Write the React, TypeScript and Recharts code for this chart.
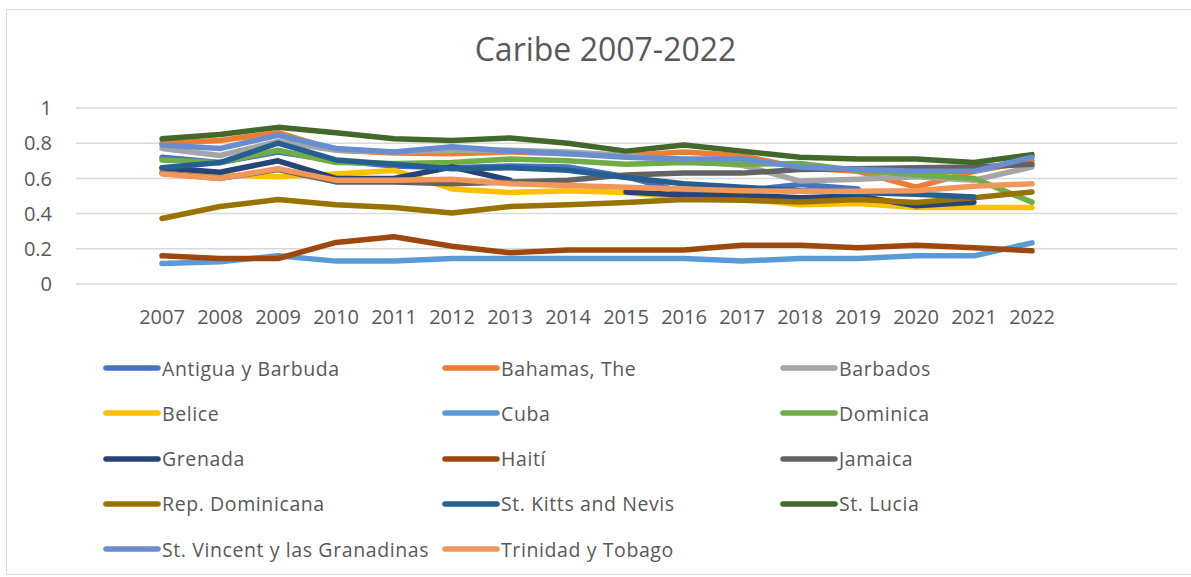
import { LineChart, Line, XAxis, YAxis, CartesianGrid } from "recharts";

const years = ['2007', '2008', '2009', '2010', '2011', '2012', '2013', '2014', '2015', '2016', '2017', '2018', '2019', '2020', '2021', '2022'];

const antigua = [0.72, 0.69, 0.75, 0.7, 0.67, 0.66, 0.67, 0.665, 0.61, 0.52, 0.53, 0.565, 0.54, null, null, null];
const bahamas = [0.8, 0.815, 0.86, 0.76, 0.745, 0.74, 0.75, 0.74, 0.73, 0.75, 0.73, 0.66, 0.64, 0.55, 0.64, 0.7];
const barbados = [0.77, 0.73, 0.81, 0.76, 0.75, 0.76, 0.76, 0.75, 0.73, 0.7, 0.675, 0.585, 0.595, 0.61, 0.59, 0.665];
const belice = [0.645, 0.62, 0.61, 0.625, 0.645, 0.54, 0.52, 0.53, 0.52, 0.49, 0.485, 0.45, 0.457, 0.435, 0.435, 0.435];
const cuba = [0.117, 0.127, 0.16, 0.13, 0.13, 0.145, 0.145, 0.145, 0.145, 0.145, 0.13, 0.145, 0.145, 0.16, 0.16, 0.234];
const dominica = [0.705, 0.69, 0.76, 0.69, 0.685, 0.69, 0.71, 0.7, 0.68, 0.69, 0.68, 0.685, 0.645, 0.62, 0.6, 0.465];
const grenada = [0.66, 0.635, 0.7, 0.6, 0.6, 0.665, 0.59, null, 0.523, 0.505, 0.505, 0.49, 0.5, 0.445, 0.465, null];
const haiti = [0.16, 0.145, 0.145, 0.236, 0.268, 0.215, 0.177, 0.193, 0.193, 0.193, 0.22, 0.22, 0.206, 0.22, 0.206, 0.189];
const jamaica = [0.63, 0.6, 0.65, 0.58, 0.58, 0.57, 0.58, 0.59, 0.62, 0.63, 0.63, 0.65, 0.655, 0.66, 0.665, 0.68];
const repDominicana = [0.372, 0.44, 0.48, 0.45, 0.435, 0.404, 0.44, 0.45, 0.463, 0.48, 0.476, 0.466, 0.48, 0.463, 0.49, 0.523];
const stKitts = [0.66, 0.69, 0.8, 0.705, 0.68, 0.655, 0.66, 0.646, 0.605, 0.57, 0.55, 0.53, 0.52, 0.51, 0.495, null];
const stLucia = [0.825, 0.85, 0.89, 0.86, 0.825, 0.815, 0.83, 0.8, 0.755, 0.79, 0.755, 0.72, 0.71, 0.71, 0.69, 0.735];
const stVincent = [0.79, 0.77, 0.845, 0.77, 0.75, 0.78, 0.755, 0.74, 0.72, 0.71, 0.71, 0.665, 0.65, 0.64, 0.64, 0.72];
const trinidad = [0.625, 0.6, 0.655, 0.59, 0.59, 0.595, 0.57, 0.56, 0.55, 0.54, 0.53, 0.527, 0.527, 0.53, 0.555, 0.57];

const yTicks = [0, 0.2, 0.4, 0.6, 0.8, 1];

const series = [
  { key: 'Antigua y Barbuda', values: antigua, color: '#4472C4' },
  { key: 'Bahamas, The', values: bahamas, color: '#ED7D31' },
  { key: 'Barbados', values: barbados, color: '#A5A5A5' },
  { key: 'Belice', values: belice, color: '#FFC000' },
  { key: 'Cuba', values: cuba, color: '#5B9BD5' },
  { key: 'Dominica', values: dominica, color: '#70AD47' },
  { key: 'Grenada', values: grenada, color: '#264478' },
  { key: 'Haití', values: haiti, color: '#9E480E' },
  { key: 'Jamaica', values: jamaica, color: '#636363' },
  { key: 'Rep. Dominicana', values: repDominicana, color: '#997300' },
  { key: 'St. Kitts and Nevis', values: stKitts, color: '#255E91' },
  { key: 'St. Lucia', values: stLucia, color: '#43682B' },
  { key: 'St. Vincent y las Granadinas', values: stVincent, color: '#698ED0' },
  { key: 'Trinidad y Tobago', values: trinidad, color: '#F1975A' },
];

const data = years.map((year, i) => {
  const row: Record<string, string | number | null> = { year };
  series.forEach(s => { row[s.key] = s.values[i]; });
  return row;
});

const FONT = '"Open Sans", sans-serif';
const TEXT = '#595959';

export default function App() {
  return (
    <div style={{ position: 'absolute', left: 0, top: 0, width: 1191, height: 577, background: '#fff', fontFamily: FONT }}>
      <div style={{ position: 'absolute', left: 6, top: 9, width: 1190, height: 566, border: '1px solid #d9d9d9', boxSizing: 'border-box' }} />
      <div style={{ position: 'absolute', left: 0, top: 27, width: 1211, textAlign: 'center', fontSize: 32, color: TEXT }}>
        Caribe 2007-2022
      </div>
      <div style={{ position: 'absolute', left: 0, top: 0 }}>
        <LineChart width={1191} height={577} data={data} margin={{ top: 108, right: 14, bottom: 263, left: 0 }}>
          <CartesianGrid vertical={false} stroke="#d9d9d9" strokeWidth={1.5} />
          <XAxis
            dataKey="year"
            axisLine={false}
            tickLine={false}
            padding={{ left: 86, right: 145 }}
            tickMargin={20}
            interval={0}
            height={30}
            tick={{ fill: TEXT, fontSize: 20, fontFamily: FONT }}
          />
          <YAxis
            width={76}
            domain={[0, 1]}
            ticks={yTicks}
            axisLine={false}
            tickLine={false}
            tickMargin={18}
            tick={{ fill: TEXT, fontSize: 20, fontFamily: FONT }}
          />
          {series.map(s => (
            <Line
              key={s.key}
              dataKey={s.key}
              stroke={s.color}
              strokeWidth={5.5}
              strokeLinecap="round"
              strokeLinejoin="round"
              dot={false}
              activeDot={false}
              isAnimationActive={false}
            />
          ))}
        </LineChart>
      </div>
      {series.map((s, i) => {
        const col = i % 3;
        const row = Math.floor(i / 3);
        const left = [103, 442, 780][col];
        const top = 368 + row * 45.3;
        return (
          <div key={s.key} style={{ position: 'absolute', left, top: top - 14, height: 28, display: 'flex', alignItems: 'center', whiteSpace: 'nowrap' }}>
            <svg width={58} height={8} style={{ display: 'block' }}>
              <line x1={3} y1={4} x2={55} y2={4} stroke={s.color} strokeWidth={5.5} strokeLinecap="round" />
            </svg>
            <span style={{ fontSize: 19.5, letterSpacing: 0.6, color: TEXT, marginLeft: 1 }}>{s.key}</span>
          </div>
        );
      })}
    </div>
  );
}
